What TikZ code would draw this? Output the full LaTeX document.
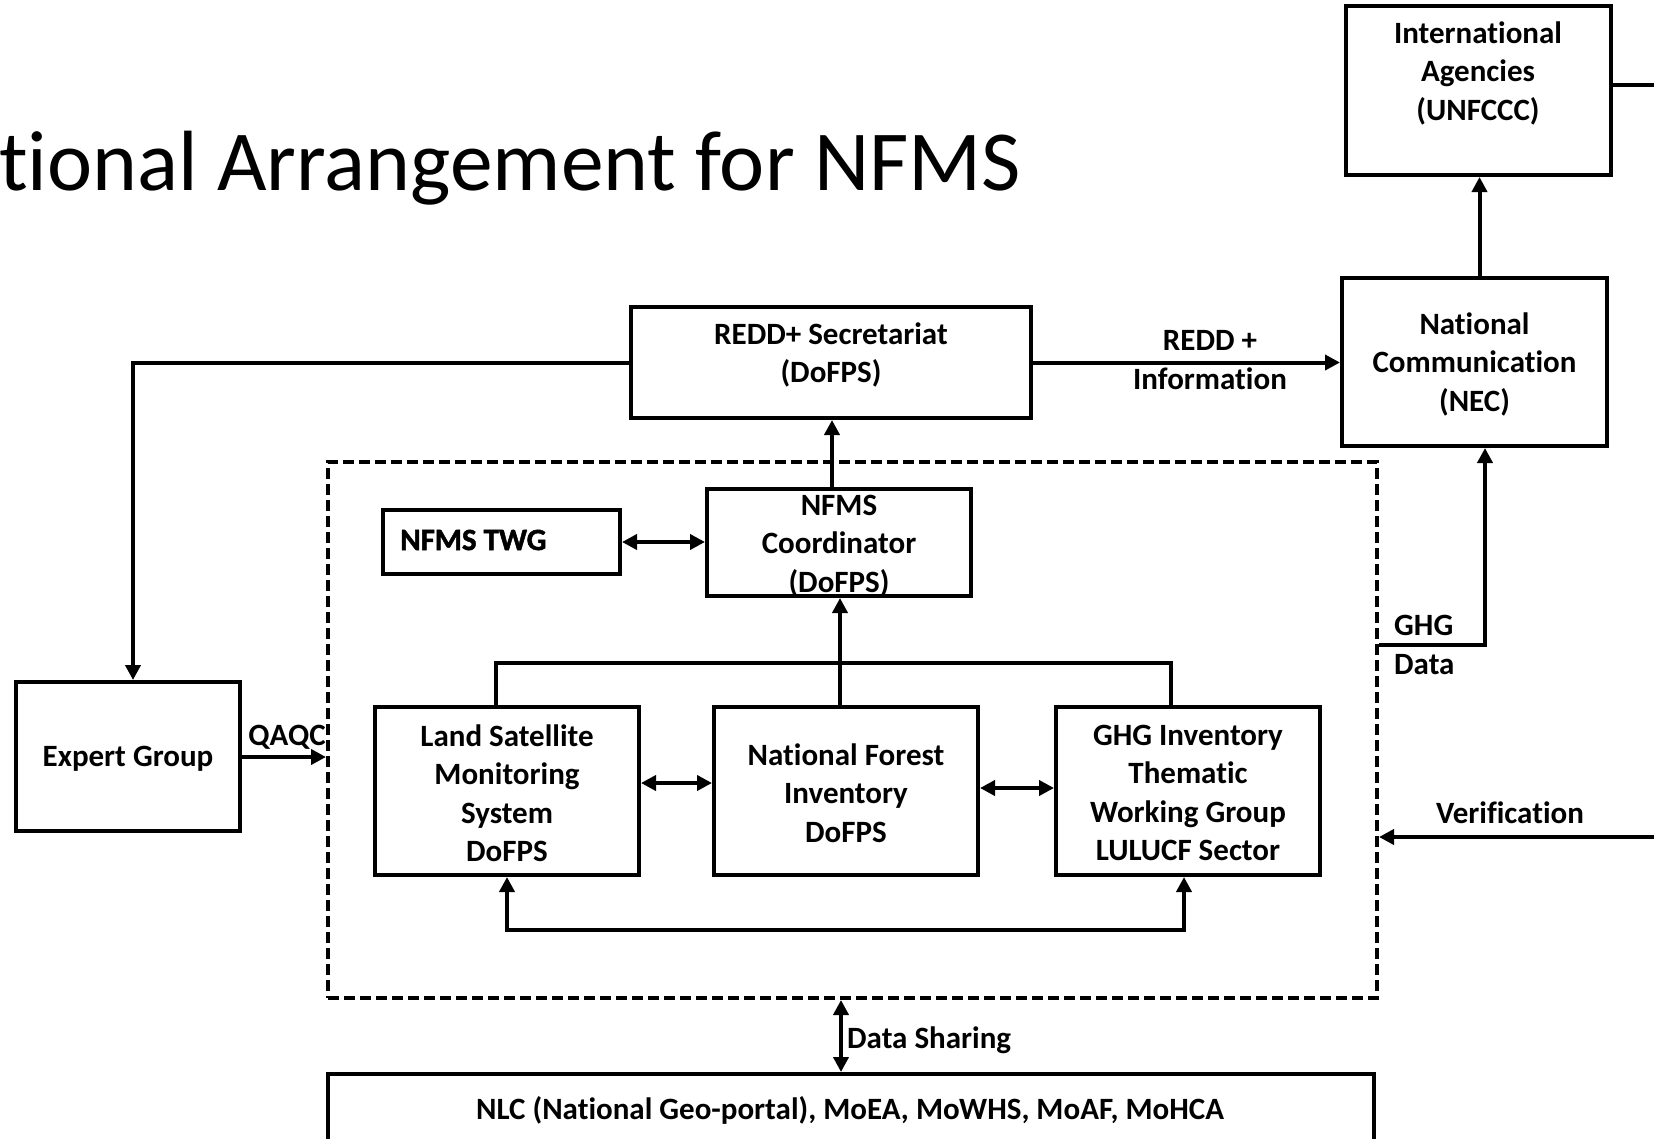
\documentclass[tikz,border=0pt]{standalone}
\usepackage{fontspec}
\setmainfont{Carlito}[Ligatures=NoCommon]
\newfontfamily\twgfont[UprightFont={* Bold},FakeBold=1.5,Ligatures=NoCommon]{Carlito}
\usetikzlibrary{arrows.meta}
\begin{document}
\begin{tikzpicture}[x=1pt,y=-1pt,
  box/.style={draw, line width=4pt, inner sep=0pt},
  dashbox/.style={draw, line width=4pt, dash pattern=on 11pt off 5pt, inner sep=0pt},
  txt/.style={font=\bfseries\fontsize{31}{38.5}\selectfont, align=center, inner sep=0pt},
  conn/.style={line width=4pt},
  arr/.style={conn, -{Triangle[length=15pt,width=15pt]}},
  darr/.style={conn, {Triangle[length=15pt,width=15pt]}-{Triangle[length=15pt,width=15pt]}}]
\useasboundingbox (0,0) rectangle (1654,1138);
\clip (0,0) rectangle (1654,1138);
\fill[white] (0,0) rectangle (1654,1138);

% title
\node[anchor=base west, font=\fontsize{85.5}{86}\selectfont, inner sep=0pt] (title) at (-1,190) {tional Arrangement for NFMS};

% boxes
\node[box, minimum width=265pt, minimum height=169pt] (ia) at (1478.5,90.5) {};
\node[txt] (iatxt) at (1478,73) {International\\Agencies\\(UNFCCC)};
\node[box, minimum width=265pt, minimum height=168pt] (nec) at (1474.5,362) {};
\node[txt] (nectxt) at (1474.5,364) {National\\Communication\\(NEC)};
\node[box, minimum width=400pt, minimum height=111pt] (redd) at (831,362.5) {};
\node[txt] (reddtxt) at (831,355) {REDD+ Secretariat\\(DoFPS)};

\node[dashbox, minimum width=1049pt, minimum height=536pt] (dash) at (852.5,730) {};

\node[box, minimum width=264pt, minimum height=107pt] (coord) at (839,542.5) {};
\node[txt] (coordtxt) at (839,546) {NFMS\\Coordinator\\(DoFPS)};
\node[box, minimum width=237pt, minimum height=64pt] (twg) at (501.5,542) {};
\node[anchor=west, inner sep=0pt, font=\twgfont\fontsize{31}{36}\selectfont] (twgtxt) at (400,540) {NFMS TWG};

\node[box, minimum width=264pt, minimum height=168pt] (land) at (507,791) {};
\node[txt] (landtxt) at (507,793) {Land Satellite\\Monitoring\\System\\DoFPS};
\node[box, minimum width=264pt, minimum height=168pt] (nfi) at (846,791) {};
\node[txt] (nfitxt) at (846,793) {National Forest\\Inventory\\DoFPS};
\node[box, minimum width=264pt, minimum height=168pt] (ghg) at (1188,791) {};
\node[txt] (ghgtxt) at (1188,793) {GHG Inventory\\Thematic\\Working Group\\LULUCF Sector};

\node[box, minimum width=224pt, minimum height=149pt] (eg) at (128,756.5) {};
\node[txt] (egtxt) at (128,759) {Expert Group};

\node[box, minimum width=1046pt, minimum height=90pt] (bottom) at (851,1119) {};
\node[txt] (bottomtxt) at (850,1110) {NLC (National Geo-portal), MoEA, MoWHS, MoAF, MoHCA};

% coordinates
\coordinate (iaout) at (1670,85);
\coordinate (bl) at (496,663);
\coordinate (br) at (1171,663);
\coordinate (bbl) at (507,930);
\coordinate (bbr) at (1184,930);
\coordinate (gd) at (1485,645);
\coordinate (vin) at (1670,837);
\coordinate (ds) at (841,0);
\coordinate (qa) at (0,757);

% connectors
\draw[conn] (ia.east |- iaout) -- (iaout);
\draw[arr] ([xshift=5pt]nec.north) -- ([xshift=5pt]nec.north |- ia.south);
\draw[arr] (redd.east) -- (redd.east -| nec.west);
\draw[arr] (redd.west) -| ([xshift=5pt]eg.north);
\draw[arr] ([xshift=-7pt]coord.north) -- ([xshift=-7pt]coord.north |- redd.south);
\draw[darr] (twg.east) -- (twg.east -| coord.west);
\draw[arr] ([xshift=-6pt]nfi.north) -- ([xshift=-6pt]nfi.north |- coord.south);
\draw[conn] (bl |- land.north) -- (bl) -- (br) -- (br |- ghg.north);
\draw[darr] ([yshift=8pt]land.east) -- ([yshift=8pt]land.east -| nfi.west);
\draw[darr] ([yshift=3pt]nfi.east) -- ([yshift=3pt]nfi.east -| ghg.west);
\draw[darr] (land.south -| bbl) -- (bbl) -- (bbr) -- (ghg.south -| bbr);
\draw[arr] (eg.east |- qa) -- (dash.west |- qa);
\draw[arr] (dash.east |- gd) -- (gd) -- (gd |- nec.south);
\draw[arr] (vin) -- (dash.east |- vin);
\draw[darr] (dash.south -| ds) -- (bottom.north -| ds);

% labels
\node[txt] (lredd) at (1210,360) {REDD +\\Information};
\node[txt] (lqaqc) at (287,737) {QAQC};
\node[txt, anchor=west, align=left] (lghg) at (1394,645) {GHG\\Data};
\node[txt] (lver) at (1510,813) {Verification};
\node[txt, anchor=west] (lds) at (847,1040) {Data Sharing};
\end{tikzpicture}
\end{document}
